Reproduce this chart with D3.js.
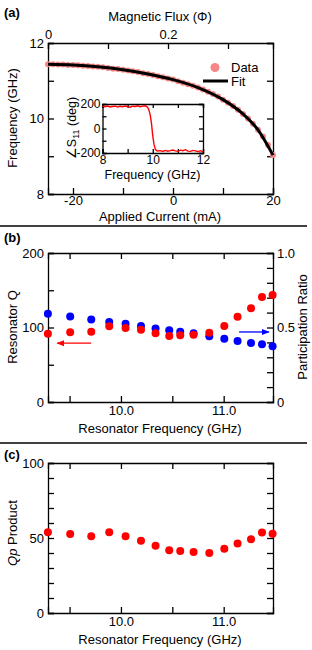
<!DOCTYPE html>
<html>
<head>
<meta charset="utf-8">
<script src="https://cdn.jsdelivr.net/npm/d3@7"></script>
<style>
  body { margin: 0; background: #fff; }
  svg { font-family: "Liberation Sans", Arial, sans-serif; }
  .axis path, .axis line { stroke: #000; stroke-width: 1.3; }
  .axis text { font-size: 13px; fill: #000; }
  .inset .axis text { font-size: 12px; }
</style>
</head>
<body>
<svg id="fig" width="312" height="650"></svg>
<script>
// ---- panel (a): tuning curve ----
var currentData = [-25,-24,-23,-22,-21,-20,-19,-18,-17,-16,-15,-14,-13,-12,-11,-10,-9,-8,-7,-6,-5,-4,-3,-2,-1,0,1,2,3,4,5,6,7,8,9,10,11,12,13,14,15,16,17,18,19,20]
var freqData = [11.44,11.44,11.43,11.43,11.42,11.42,11.41,11.40,11.39,11.38,11.37,11.36,11.34,11.32,11.31,11.29,11.27,11.25,11.23,11.20,11.18,11.15,11.12,11.09,11.06,11.03,10.99,10.95,10.91,10.87,10.82,10.77,10.71,10.65,10.58,10.50,10.42,10.33,10.23,10.12,10.00,9.86,9.70,9.52,9.30,9.03]
var currentFit = [-25,-20,-15,-10,-5,0,5,10,14,17,20]
var freqFit = [11.44,11.42,11.37,11.29,11.18,11.03,10.82,10.50,10.12,9.70,9.03]
var currentTicks = [-20,-10,0,10,20]
var currentLabels = [-20,0,20]
var fluxTicks = [0,0.1,0.2,0.3]
var fluxLabels = [0,0.2]
var freqTicksA = [8,9,10,11,12]
var freqLabelsA = [8,10,12]

// inset: phase of S11
var insetFreq = [8.0,8.1,8.2,8.3,8.4,8.5,8.6,8.7,8.8,8.9,9.0,9.1,9.2,9.3,9.4,9.5,9.6,9.7,9.75,9.8,9.85,9.9,9.95,10.0,10.05,10.1,10.15,10.2,10.3,10.4,10.5,10.6,10.7,10.8,10.9,11.0,11.1,11.2,11.3,11.4,11.5,11.6,11.7,11.8,11.9,12.0]
var insetPhase = [184,178,183,176,180,182,175,181,178,183,179,174,182,180,185,178,183,186,180,172,150,110,40,-60,-130,-168,-180,-184,-181,-187,-179,-185,-181,-176,-183,-186,-177,-181,-173,-185,-187,-179,-183,-189,-181,-191]

// ---- panels (b) and (c): resonator Q, participation ratio ----
var resFreq = [9.289,9.506,9.711,9.886,10.045,10.195,10.337,10.470,10.577,10.707,10.860,11.006,11.135,11.266,11.373,11.476]
var resQ = [91.7,93.5,94.4,101.6,99.3,97.1,92.2,88.6,89.5,90.4,93.1,102.0,114.5,125.7,140.9,143.6]
var partRatio = [0.593,0.573,0.553,0.537,0.526,0.510,0.494,0.481,0.472,0.461,0.441,0.425,0.409,0.396,0.387,0.374]
var qpProduct = [53.8,52.7,51.1,53.8,51.1,48.2,44.9,41.8,41.3,40.7,40.0,42.9,46.4,49.1,53.6,52.9]
var resTicks = [9.5,10.0,10.5,11.0]
var resLabels = [10.0,11.0]

var svg = d3.select("#fig")
var L = 48, R = 273

// helper: inward ticks axis, labels only for some values
function makeAxis(fn, scale, ticks, labels, fmt, size) {
  return fn(scale).tickValues(ticks).tickSize(-(size || 6)).tickPadding(4)
    .tickFormat(function(d){
      var hit = labels.some(function(v){ return Math.abs(v - d) < 1e-9 })
      return hit ? fmt(d) : ""
    })
}
function plain(d){ return String(d) }
function oneDec(d){ return d3.format(".1f")(d) }

// ===================== (a) =====================
var aTop = 43, aBot = 194
var xA = d3.scaleLinear().domain([-25,20]).range([L,R])
var xFlux = d3.scaleLinear().domain([0,0.375]).range([L,R])
var yA = d3.scaleLinear().domain([8,12]).range([aBot,aTop])

var gA = svg.append("g")
gA.append("g").attr("class","axis").attr("transform","translate(0,"+aBot+")")
  .call(makeAxis(d3.axisBottom, xA, currentTicks, currentLabels, plain).tickPadding(2))
gA.append("g").attr("class","axis").attr("transform","translate(0,"+aTop+")")
  .call(makeAxis(d3.axisTop, xFlux, fluxTicks, fluxLabels, plain))
gA.append("g").attr("class","axis").attr("transform","translate("+L+",0)")
  .call(makeAxis(d3.axisLeft, yA, freqTicksA, freqLabelsA, plain))
gA.append("g").attr("class","axis").attr("transform","translate("+R+",0)")
  .call(makeAxis(d3.axisRight, yA, freqTicksA, [], plain))

gA.selectAll("circle.data")
  .data(currentData)
  .enter()
  .append("circle")
  .attr("class","data")
  .attr("cx", function(d){ return xA(d) })
  .attr("cy", function(d,i){ return yA(freqData[i]) })
  .attr("r", 3)
  .attr("fill", "#f78787")

var fitLine = d3.line()
  .x(function(d){ return xA(d) })
  .y(function(d,i){ return yA(freqFit[i]) })
  .curve(d3.curveMonotoneX)
gA.append("path")
  .datum(currentFit)
  .attr("d", fitLine)
  .attr("fill","none")
  .attr("stroke","#000")
  .attr("stroke-width",3)

// legend
gA.append("circle").attr("cx",215).attr("cy",67.5).attr("r",4.5).attr("fill","#f78787")
gA.append("text").attr("x",231).attr("y",72).attr("font-size","13px").text("Data")
gA.append("line").attr("x1",203).attr("x2",228).attr("y1",81).attr("y2",81)
  .attr("stroke","#000").attr("stroke-width",3)
gA.append("text").attr("x",231).attr("y",86).attr("font-size","13px").text("Fit")

gA.append("text").attr("x",160).attr("y",21).attr("text-anchor","middle")
  .attr("font-size","13px").text("Magnetic Flux (\u03A6)")
gA.append("text").attr("x",160).attr("y",221).attr("text-anchor","middle")
  .attr("font-size","13px").text("Applied Current (mA)")
gA.append("text").attr("transform","translate(17,118) rotate(-90)").attr("text-anchor","middle")
  .attr("font-size","13px").text("Frequency (GHz)")

// inset
var iL = 102.5, iR = 203, iT = 104, iB = 153
var xI = d3.scaleLinear().domain([8,12]).range([iL,iR])
var yI = d3.scaleLinear().domain([-200,200]).range([iB,iT])
var gI = svg.append("g").attr("class","inset")
gI.append("rect").attr("x",iL).attr("y",iT).attr("width",iR-iL).attr("height",iB-iT).attr("fill","#fff")
gI.append("g").attr("class","axis").attr("transform","translate(0,"+iB+")")
  .call(makeAxis(d3.axisBottom, xI, [8,9,10,11,12], [8,10,12], plain, 4).tickPadding(2))
gI.append("g").attr("class","axis").attr("transform","translate(0,"+iT+")")
  .call(makeAxis(d3.axisTop, xI, [8,9,10,11,12], [], plain, 4))
gI.append("g").attr("class","axis").attr("transform","translate("+iL+",0)")
  .call(makeAxis(d3.axisLeft, yI, [-200,-100,0,100,200], [-200,0,200], plain, 4).tickPadding(2))
gI.append("g").attr("class","axis").attr("transform","translate("+iR+",0)")
  .call(makeAxis(d3.axisRight, yI, [-200,-100,0,100,200], [], plain, 4))
var phaseLine = d3.line()
  .x(function(d){ return xI(d) })
  .y(function(d,i){ return yI(insetPhase[i]) })
gI.append("path").datum(insetFreq).attr("d", phaseLine)
  .attr("fill","none").attr("stroke","#f00").attr("stroke-width",1.4)
gI.append("text").attr("x",152.5).attr("y",179).attr("text-anchor","middle")
  .attr("font-size","12.5px").text("Frequency (GHz)")
var ylab = gI.append("text").attr("transform","translate(76,128) rotate(-90)")
  .attr("text-anchor","middle").attr("font-size","12.5px")
ylab.append("tspan").text("\u2220S")
ylab.append("tspan").attr("font-size","9px").attr("dy",3).text("11")
ylab.append("tspan").attr("dy",-3).text(" (deg)")

// separators
svg.append("line").attr("x1",0).attr("x2",307).attr("y1",226).attr("y2",226)
  .attr("stroke","#000").attr("stroke-width",1.3)
svg.append("line").attr("x1",0).attr("x2",307).attr("y1",443).attr("y2",443)
  .attr("stroke","#000").attr("stroke-width",1.3)

// ===================== (b) =====================
var bTop = 253, bBot = 402
var xB = d3.scaleLinear().domain([9.29,11.48]).range([L,R])
var yQ = d3.scaleLinear().domain([0,200]).range([bBot,bTop])
var yP = d3.scaleLinear().domain([0,1]).range([bBot,bTop])
var gB = svg.append("g")
gB.append("g").attr("class","axis").attr("transform","translate(0,"+bBot+")")
  .call(makeAxis(d3.axisBottom, xB, resTicks, resLabels, oneDec))
gB.append("g").attr("class","axis").attr("transform","translate(0,"+bTop+")")
  .call(makeAxis(d3.axisTop, xB, resTicks, [], oneDec))
gB.append("g").attr("class","axis").attr("transform","translate("+L+",0)")
  .call(makeAxis(d3.axisLeft, yQ, [0,50,100,150,200], [0,100,200], plain))
gB.append("g").attr("class","axis").attr("transform","translate("+R+",0)")
  .call(makeAxis(d3.axisRight, yP, d3.range(0,1.01,0.1), [0,0.5,1], function(d){ return d === 0 ? "0" : oneDec(d) }))

gB.selectAll("circle.p")
  .data(resFreq).enter().append("circle").attr("class","p")
  .attr("cx", function(d){ return xB(d) })
  .attr("cy", function(d,i){ return yP(partRatio[i]) })
  .attr("r", 4).attr("fill","#0000ff")
gB.selectAll("circle.q")
  .data(resFreq).enter().append("circle").attr("class","q")
  .attr("cx", function(d){ return xB(d) })
  .attr("cy", function(d,i){ return yQ(resQ[i]) })
  .attr("r", 4).attr("fill","#ff0000")

// arrows pointing to each axis
var defs = svg.append("defs")
function head(id, col) {
  defs.append("marker").attr("id",id).attr("viewBox","0 0 10 10").attr("refX",9).attr("refY",5)
    .attr("markerWidth",6).attr("markerHeight",6).attr("orient","auto")
    .append("path").attr("d","M0,1L10,5L0,9Z").attr("fill",col)
}
head("hr","#ff0000"); head("hb","#0000ff")
gB.append("line").attr("x1",xB(9.71)).attr("x2",xB(9.38)).attr("y1",yQ(79)).attr("y2",yQ(79))
  .attr("stroke","#ff0000").attr("stroke-width",1.3).attr("marker-end","url(#hr)")
gB.append("line").attr("x1",xB(11.15)).attr("x2",xB(11.44)).attr("y1",yP(0.47)).attr("y2",yP(0.47))
  .attr("stroke","#0000ff").attr("stroke-width",1.3).attr("marker-end","url(#hb)")

gB.append("text").attr("x",160).attr("y",433).attr("text-anchor","middle")
  .attr("font-size","13px").text("Resonator Frequency (GHz)")
gB.append("text").attr("transform","translate(17,327) rotate(-90)").attr("text-anchor","middle")
  .attr("font-size","13px").text("Resonator Q")
gB.append("text").attr("transform","translate(307,327) rotate(-90)").attr("text-anchor","middle")
  .attr("font-size","13px").text("Participation Ratio")

// ===================== (c) =====================
var cTop = 463, cBot = 613
var yC = d3.scaleLinear().domain([0,100]).range([cBot,cTop])
var gC = svg.append("g")
gC.append("g").attr("class","axis").attr("transform","translate(0,"+cBot+")")
  .call(makeAxis(d3.axisBottom, xB, resTicks, resLabels, oneDec))
gC.append("g").attr("class","axis").attr("transform","translate(0,"+cTop+")")
  .call(makeAxis(d3.axisTop, xB, resTicks, [], oneDec))
gC.append("g").attr("class","axis").attr("transform","translate("+L+",0)")
  .call(makeAxis(d3.axisLeft, yC, d3.range(0,101,10), [0,50,100], plain))
gC.append("g").attr("class","axis").attr("transform","translate("+R+",0)")
  .call(makeAxis(d3.axisRight, yC, d3.range(0,101,10), [], plain))

gC.selectAll("circle.qp")
  .data(resFreq).enter().append("circle").attr("class","qp")
  .attr("cx", function(d){ return xB(d) })
  .attr("cy", function(d,i){ return yC(qpProduct[i]) })
  .attr("r", 4).attr("fill","#ff0000")

gC.append("text").attr("x",160).attr("y",644).attr("text-anchor","middle")
  .attr("font-size","13px").text("Resonator Frequency (GHz)")
var qlab = gC.append("text").attr("transform","translate(17,533) rotate(-90)")
  .attr("text-anchor","middle").attr("font-size","13px")
qlab.append("tspan").attr("font-style","italic").text("Qp")
qlab.append("tspan").text(" Product")

// panel letters
svg.append("text").attr("x",4).attr("y",17).attr("font-size","13px").attr("font-weight","bold").text("(a)")
svg.append("text").attr("x",4).attr("y",242).attr("font-size","13px").attr("font-weight","bold").text("(b)")
svg.append("text").attr("x",4).attr("y",459).attr("font-size","13px").attr("font-weight","bold").text("(c)")
</script>
</body>
</html>
